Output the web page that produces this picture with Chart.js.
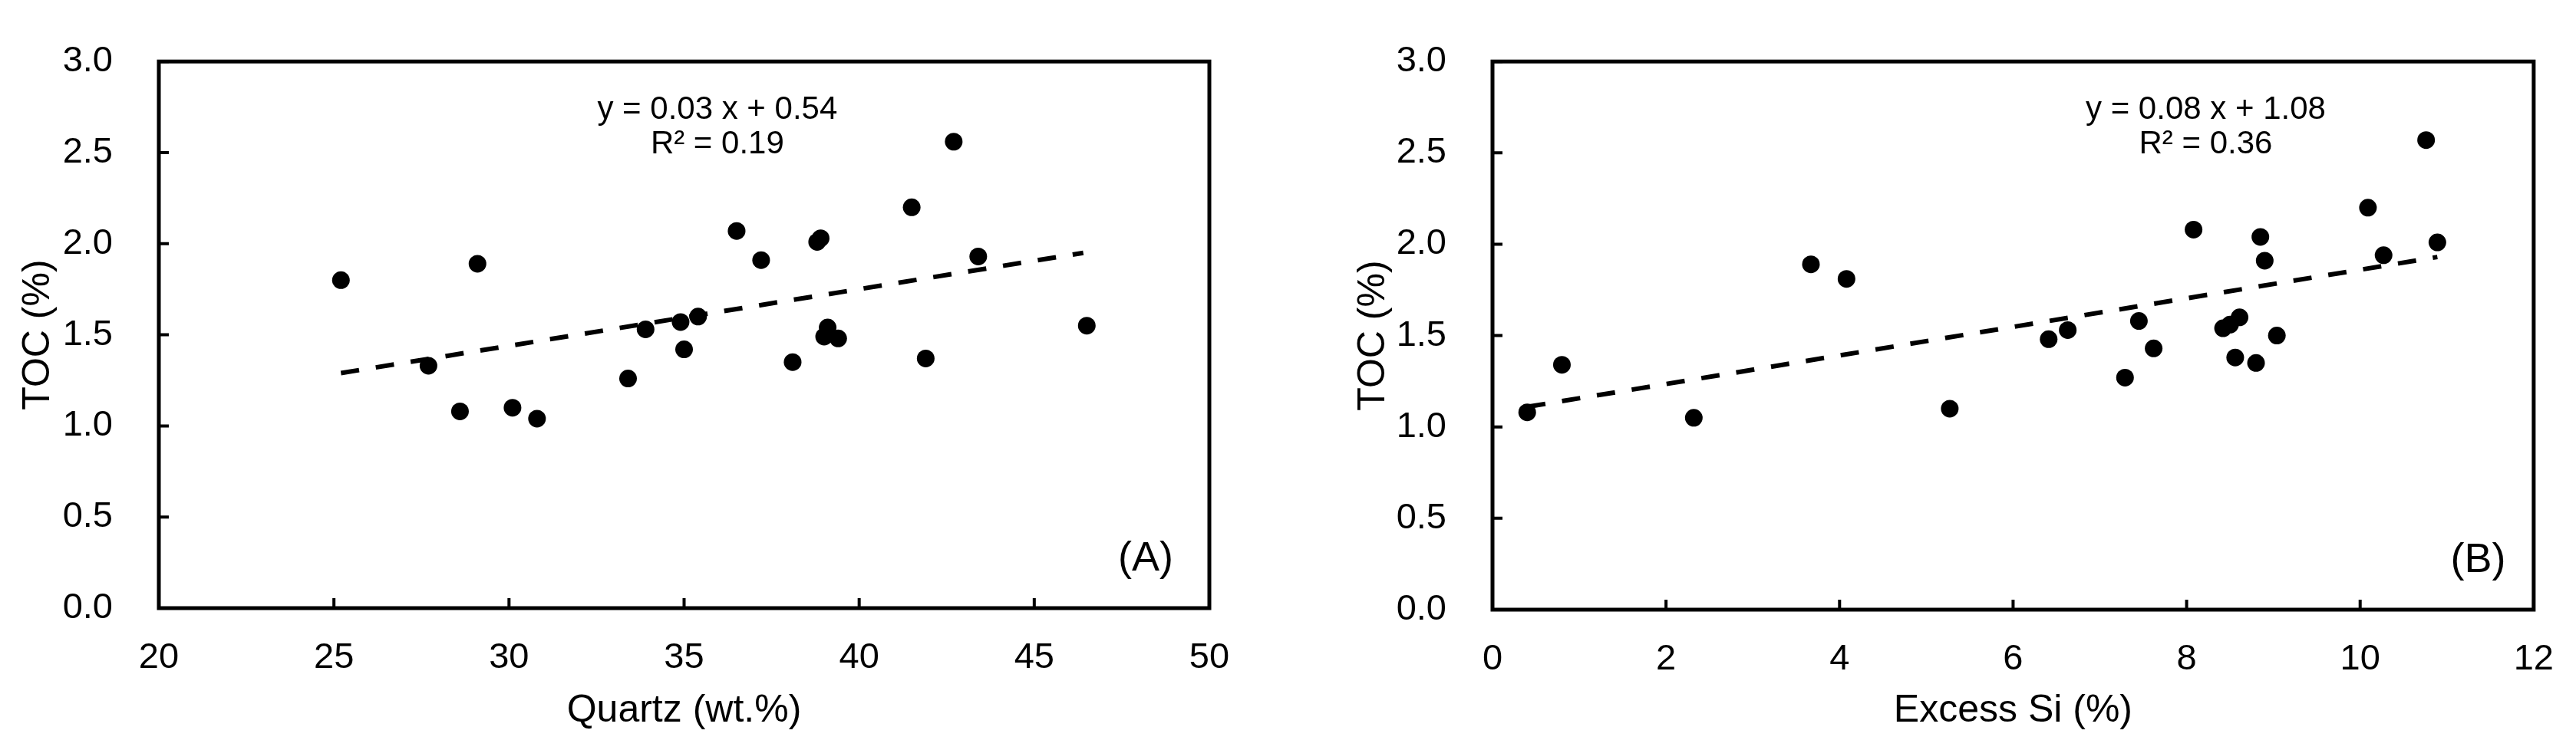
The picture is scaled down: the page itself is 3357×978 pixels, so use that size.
<!DOCTYPE html>
<html>
<head>
<meta charset="utf-8">
<script src="https://cdn.jsdelivr.net/npm/chart.js@4.4.1/dist/chart.umd.min.js"></script>
<style>
  html, body { margin: 0; padding: 0; background: #fff; }
  #wrap { position: relative; width: 3357px; height: 978px; }
  canvas { position: absolute; top: 0; }
  #chartA { left: 0; }
  #chartB { left: 1680px; }
</style>
</head>
<body>
<div id="wrap">
  <canvas id="chartA" width="1680" height="978"></canvas>
  <canvas id="chartB" width="1677" height="978"></canvas>
</div>
<script>
// panel A: TOC vs quartz
const quartz = [25.2, 27.7, 28.6, 29.1, 30.1, 30.8, 33.4, 33.9, 34.9, 35.0, 35.4, 36.5, 37.2, 38.1, 38.8, 38.9, 39.0, 39.1, 39.4, 41.5, 41.9, 42.7, 43.4, 46.5];
const tocA = [1.80, 1.33, 1.08, 1.89, 1.10, 1.04, 1.26, 1.53, 1.57, 1.42, 1.60, 2.07, 1.91, 1.35, 2.01, 2.03, 1.49, 1.54, 1.48, 2.20, 1.37, 2.56, 1.93, 1.55];
const trendAx = [25.2, 46.4];
const trendAy = [1.29, 1.95];

// panel B: TOC vs excess Si
const excessSi = [0.40, 0.80, 2.32, 3.67, 4.08, 5.27, 6.41, 6.63, 7.29, 7.45, 7.62, 8.08, 8.42, 8.50, 8.56, 8.61, 8.80, 8.85, 8.90, 9.04, 10.09, 10.27, 10.76, 10.89];
const tocB = [1.08, 1.34, 1.05, 1.89, 1.81, 1.10, 1.48, 1.53, 1.27, 1.58, 1.43, 2.08, 1.54, 1.56, 1.38, 1.60, 1.35, 2.04, 1.91, 1.50, 2.20, 1.94, 2.57, 2.01];
const trendBx = [0.40, 10.89];
const trendBy = [1.11, 1.93];

const eqA = ['y = 0.03 x + 0.54', 'R\u00B2 = 0.19'];
const eqB = ['y = 0.08 x + 1.08', 'R\u00B2 = 0.36'];

const FONT = "'Liberation Sans', Arial, sans-serif";
Chart.defaults.font.family = FONT;
Chart.defaults.color = '#000';

// box frame, inward tick marks, equation and panel letter
const frameTicks = {
  id: 'frameTicks',
  afterDraw(chart, args, o) {
    const { ctx, chartArea: a, scales: { x, y } } = chart;
    ctx.save();
    ctx.strokeStyle = '#000';
    ctx.lineWidth = 5;
    ctx.strokeRect(a.left, a.top, a.right - a.left, a.bottom - a.top);
    ctx.lineWidth = 4;
    ctx.beginPath();
    x.ticks.forEach(t => {
      const px = x.getPixelForValue(t.value);
      ctx.moveTo(px, a.bottom); ctx.lineTo(px, a.bottom - 13);
    });
    y.ticks.forEach(t => {
      const py = y.getPixelForValue(t.value);
      ctx.moveTo(a.left, py); ctx.lineTo(a.left + 13, py);
    });
    ctx.stroke();

    ctx.fillStyle = '#000';
    ctx.textAlign = 'center';
    ctx.textBaseline = 'middle';
    ctx.font = '42px ' + FONT;
    o.eq.forEach((line, i) => {
      ctx.fillText(line, x.getPixelForValue(o.eqX), y.getPixelForValue(o.eqY) + i * 45);
    });
    ctx.font = '54px ' + FONT;
    ctx.fillText(o.tag, x.getPixelForValue(o.tagX), y.getPixelForValue(o.tagY));
    ctx.restore();
  }
};

function makeChart(id, xs, ys, tx, ty, c) {
  const pts = xs.map((v, i) => ({ x: v, y: ys[i] }));
  const line = tx.map((v, i) => ({ x: v, y: ty[i] }));
  return new Chart(document.getElementById(id), {
    type: 'scatter',
    data: {
      datasets: [
        { data: pts, backgroundColor: '#000', borderWidth: 0, pointRadius: 11.5, pointHoverRadius: 11.5 },
        { type: 'line', data: line, borderColor: '#000', borderWidth: 6, borderDash: [24, 22], pointRadius: 0, fill: false }
      ]
    },
    options: {
      responsive: false,
      animation: false,
      devicePixelRatio: 1,
      layout: { padding: { left: 0, top: c.top, right: c.right, bottom: 0 } },
      plugins: {
        legend: { display: false },
        tooltip: { enabled: false },
        frameTicks: { eq: c.eq, eqX: c.eqX, eqY: 2.736, tag: c.tag, tagX: c.tagX, tagY: 0.27 }
      },
      scales: {
        x: {
          type: 'linear', min: c.xmin, max: c.xmax,
          grid: { display: false }, border: { display: false },
          ticks: { stepSize: c.step, padding: 29, maxRotation: 0, autoSkip: false, font: { size: 47 } },
          title: { display: true, text: c.xtitle, font: { size: 50 }, padding: { top: 0, bottom: 21 } },
          afterFit: s => { s.height = c.xh; }
        },
        y: {
          type: 'linear', min: 0, max: 3,
          grid: { display: false }, border: { display: false },
          ticks: { stepSize: 0.5, padding: 52, autoSkip: false, font: { size: 47 }, callback: v => v.toFixed(1) },
          title: { display: true, text: 'TOC (%)', font: { size: 50 }, padding: { top: c.ytp, bottom: 0 } },
          afterFit: s => { s.width = c.yw; }
        }
      }
    },
    plugins: [frameTicks]
  });
}

makeChart('chartA', quartz, tocA, trendAx, trendAy, {
  top: 59, right: 104, xh: 185, yw: 207, ytp: 20,
  xmin: 20, xmax: 50, step: 5, xtitle: 'Quartz (wt.%)',
  eq: eqA, eqX: 35.95, tag: '(A)', tagX: 48.18
});

makeChart('chartB', excessSi, tocB, trendBx, trendBy, {
  top: 62, right: 49, xh: 183, yw: 265, ytp: 80,
  xmin: 0, xmax: 12, step: 2, xtitle: 'Excess Si (%)',
  eq: eqB, eqX: 8.22, tag: '(B)', tagX: 11.36
});
</script>
</body>
</html>
